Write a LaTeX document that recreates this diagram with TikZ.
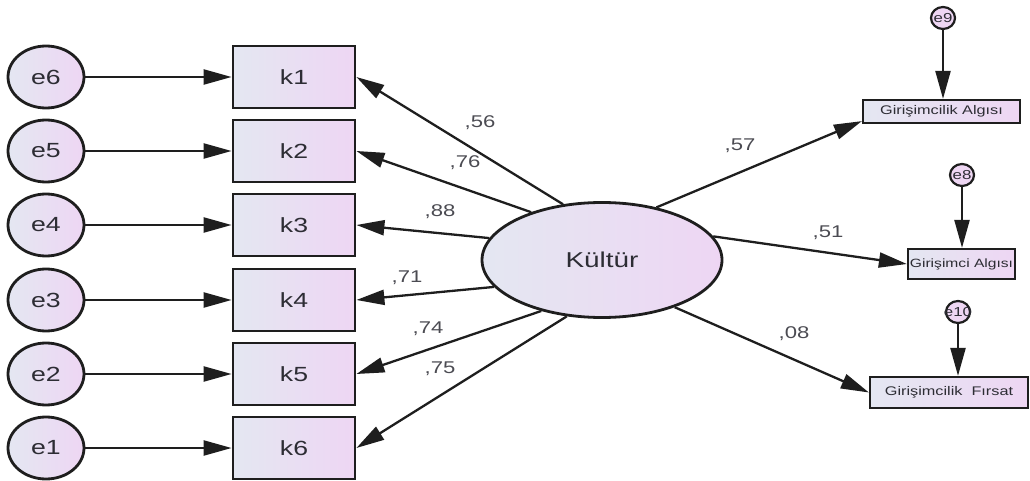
\documentclass[tikz,border=0pt]{standalone}
\usepackage{fontspec}
\setmainfont{Liberation Sans}[FakeStretch=1.3]
\usetikzlibrary{arrows.meta,shapes.geometric,calc}
\definecolor{fillL}{RGB}{228,231,242}
\definecolor{fillR}{RGB}{238,214,243}
\definecolor{ln}{RGB}{30,30,30}
\definecolor{txt}{RGB}{45,45,52}
\definecolor{lbl}{RGB}{75,75,82}
\begin{document}
\begin{tikzpicture}[x=1pt,y=-1pt,
 box/.style={draw=ln, line width=2.8pt, left color=fillL, right color=fillR, minimum width=122pt, minimum height=62pt, inner sep=0pt, font=\fontsize{20.5}{24}\selectfont, text=txt},
 err/.style={ellipse, draw=ln, line width=2.8pt, left color=fillL, right color=fillR, minimum width=76pt, minimum height=62pt, inner sep=0pt, font=\fontsize{20.5}{24}\selectfont, text=txt},
 obs/.style={draw=ln, line width=2.2pt, left color=fillL, right color=fillR, inner sep=0pt, text=txt},
 serr/.style={ellipse, draw=ln, line width=2.2pt, fill=fillR, minimum width=24pt, minimum height=22pt, inner sep=0pt},
 errlbl/.style={font=\fontsize{13}{14}\selectfont, text=txt},
 arr/.style={draw=ln, line width=2.3pt, -{Triangle[length=28pt,width=15pt]}},
 coef/.style={font=\fontsize{17}{20}\selectfont, text=lbl},
]
\useasboundingbox (0,0) rectangle (1030,481);
% error terms
\node[err] (e6) at (46,77) {e6};
\node[err] (e5) at (46,151) {e5};
\node[err] (e4) at (46,225) {e4};
\node[err] (e3) at (46,300) {e3};
\node[err] (e2) at (46,374) {e2};
\node[err] (e1) at (46,448) {e1};
% indicators
\node[box] (k1) at (294,77) {k1};
\node[box] (k2) at (294,151) {k2};
\node[box] (k3) at (294,225) {k3};
\node[box] (k4) at (294,300) {k4};
\node[box] (k5) at (294,374) {k5};
\node[box] (k6) at (294,448) {k6};
% latent
\node[ellipse, draw=ln, line width=2.8pt, left color=fillL, right color=fillR, minimum width=240pt, minimum height=115pt, inner sep=0pt, font=\fontsize{21.5}{25}\selectfont, text=txt] (kul) at (602,260) {Kültür};
% outcomes
\node[obs, minimum width=157pt, minimum height=23pt, font=\fontsize{12.5}{14}\selectfont] (alg) at (941.5,111.5) {Girişimcilik Algısı};
\node[obs, minimum width=107pt, minimum height=30pt, font=\fontsize{12}{14}\selectfont] (gal) at (961.5,264) {Girişimci Algısı};
\node[obs, minimum width=158pt, minimum height=31pt, font=\fontsize{12.5}{14}\selectfont] (fir) at (949,392.5) {Girişimcilik~~Fırsat};
% small errors
\node[serr, label={[errlbl]center:e9}] (e9) at (943,18) {};
\node[serr, label={[errlbl]center:e8}] (e8) at (962,175) {};
\node[serr, label={[errlbl]center:e10}] (e10) at (958,312) {};
% arrows from errors
\draw[arr] (e6) -- (k1);
\draw[arr] (e5) -- (k2);
\draw[arr] (e4) -- (k3);
\draw[arr] (e3) -- (k4);
\draw[arr] (e2) -- (k5);
\draw[arr] (e1) -- (k6);
\draw[arr] (e9.south) -- (e9.south |- alg.north);
\draw[arr] (e8.south) -- (e8.south |- gal.north);
\draw[arr] (e10.south) -- (e10.south |- fir.north);
% loadings
\draw[arr] (kul.125) -- (k1.east);
\draw[arr] (kul.146) -- (k2.east);
\draw[arr] (kul.169) -- (k3.east);
\draw[arr] (kul.194) -- (k4.east);
\draw[arr] (kul.220) -- (k5.east);
\draw[arr] (kul.238) -- (k6.east);
\draw[arr] (kul.44) -- ($(alg.south west)+(0,-3)$);
\draw[arr] (kul.12) -- (gal.west);
\draw[arr] (kul.327) -- (fir.west);
% coefficients
\node[coef] (c56) at (480,123) {,56};
\node[coef] (c76) at (465,163) {,76};
\node[coef] (c88) at (440,212) {,88};
\node[coef] (c71) at (407,278) {,71};
\node[coef] (c74) at (428,329) {,74};
\node[coef] (c75) at (440,369) {,75};
\node[coef] (c57) at (740,146) {,57};
\node[coef] (c51) at (828,233) {,51};
\node[coef] (c08) at (794,334) {,08};
\end{tikzpicture}
\end{document}
